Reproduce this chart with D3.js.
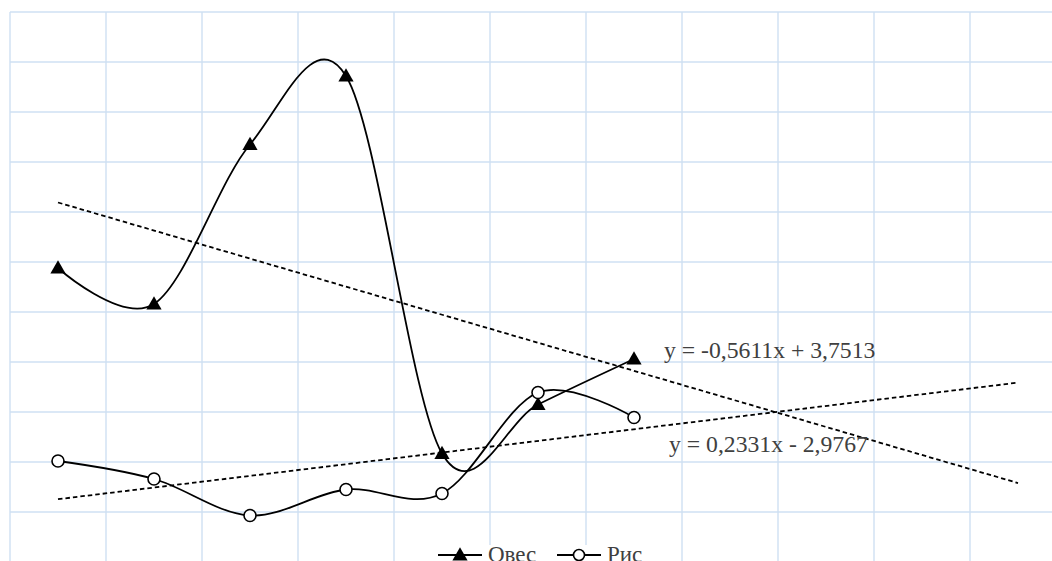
<!DOCTYPE html>
<html>
<head>
<meta charset="utf-8">
<script src="https://cdn.jsdelivr.net/npm/d3@7"></script>
<style>
body { margin: 0; background: #fff; }
svg { display: block; }
text { font-family: "Liberation Serif", "Times New Roman", serif; fill: #404040; }
</style>
</head>
<body>
<svg width="1052" height="561"></svg>
<script>
// data
const periods = [1, 2, 3, 4, 5, 6, 7];
const oats = [1.88, 1.16, 4.35, 5.72, -1.83, -0.85, 0.06];
const rice = [-1.98, -2.34, -3.07, -2.55, -2.63, -0.61, -1.11];
const seriesNames = ['Овес', 'Рис'];
const trendSlopes = [-0.5611, 0.2331];
const trendIntercepts = [3.7513, -2.9767];
const trendLabels = ['y = -0,5611x + 3,7513', 'y = 0,2331x - 2,9767'];
const trendRange = [1, 11];
const yGrid = d3.range(-4, 8);
const xGrid = d3.range(0.5, 12, 1);

const svg = d3.select('svg');
const W = +svg.attr('width'), H = +svg.attr('height');

const x = d3.scaleLinear().domain([0.5, 11.5]).range([10, 1066]);
const y = d3.scaleLinear().domain([-3, 7]).range([512, 12]);

// grid
const grid = svg.append('g').attr('stroke', '#cfe0f3').attr('stroke-width', 1.4);
grid.selectAll('line.h').data(yGrid).join('line')
    .attr('class', 'h')
    .attr('x1', x(0.5)).attr('x2', W + 20)
    .attr('y1', d => y(d)).attr('y2', d => y(d));
grid.selectAll('line.v').data(xGrid).join('line')
    .attr('class', 'v')
    .attr('x1', d => x(d)).attr('x2', d => x(d))
    .attr('y1', y(7)).attr('y2', H + 20);

// trend lines
const trends = trendSlopes.map((k, i) => trendRange.map(t => [t, k * t + trendIntercepts[i]]));
svg.append('g').selectAll('line').data(trends).join('line')
    .attr('x1', d => x(d[0][0])).attr('y1', d => y(d[0][1]))
    .attr('x2', d => x(d[1][0])).attr('y2', d => y(d[1][1]))
    .attr('stroke', '#000').attr('stroke-width', 1.8)
    .attr('stroke-dasharray', '4.5,3');

// series
const line = d3.line()
    .curve(d3.curveCardinal.tension(0))
    .x(d => x(d[0])).y(d => y(d[1]));

const oatPts = periods.map((p, i) => [p, oats[i]]);
const ricePts = periods.map((p, i) => [p, rice[i]]);

[oatPts, ricePts].forEach(pts => {
  svg.append('path').datum(pts)
     .attr('d', line)
     .attr('fill', 'none').attr('stroke', '#000').attr('stroke-width', 1.8);
});

const tri = d3.symbol().type(d3.symbolTriangle).size(100);

svg.append('g').selectAll('path').data(oatPts).join('path')
    .attr('d', tri)
    .attr('transform', d => `translate(${x(d[0])},${y(d[1]) + 1})`)
    .attr('fill', '#000');

svg.append('g').selectAll('circle').data(ricePts).join('circle')
    .attr('cx', d => x(d[0])).attr('cy', d => y(d[1]))
    .attr('r', 6)
    .attr('fill', '#fff').attr('stroke', '#000').attr('stroke-width', 1.6);

// trend labels
const labelPos = [[664, 358], [669, 452]];
svg.append('g').selectAll('text').data(trendLabels).join('text')
    .attr('x', (d, i) => labelPos[i][0]).attr('y', (d, i) => labelPos[i][1])
    .attr('font-size', 23.7)
    .text(d => d);

// legend
const legend = svg.append('g');
legend.append('rect').attr('x', 430).attr('y', 545).attr('width', 230).attr('height', 20).attr('fill', '#fff');
const legItems = legend.selectAll('g').data(seriesNames).join('g')
    .attr('transform', (d, i) => `translate(${[438, 557][i]},555)`);
legItems.append('line').attr('x1', 0).attr('x2', 44).attr('y1', 0).attr('y2', 0)
    .attr('stroke', '#000').attr('stroke-width', 1.8);
legItems.filter((d, i) => i === 0).append('path')
    .attr('d', tri).attr('transform', 'translate(22,1)').attr('fill', '#000');
legItems.filter((d, i) => i === 1).append('circle')
    .attr('cx', 22).attr('cy', 0).attr('r', 5.5)
    .attr('fill', '#fff').attr('stroke', '#000').attr('stroke-width', 1.6);
legItems.append('text').attr('x', 50).attr('y', 7)
    .attr('font-size', 23)
    .text(d => d);
</script>
</body>
</html>
